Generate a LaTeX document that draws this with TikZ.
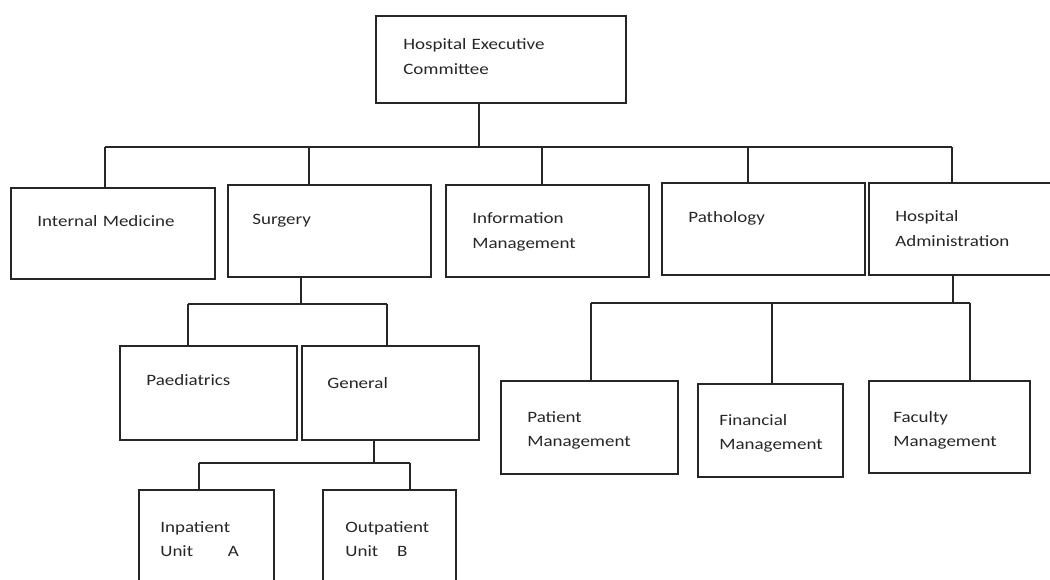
\documentclass[tikz,border=0pt]{standalone}
\usepackage{fontspec}
\setmainfont{Carlito}[FakeStretch=1.2]
\usetikzlibrary{positioning}

\begin{document}
\begin{tikzpicture}[x=0.02cm, y=-0.02cm,
  unitbox/.style={draw=black!85, line width=1.1pt, inner sep=0, anchor=north west},
  unittext/.style={anchor=base west, inner sep=0, text width=5cm, align=left,
                   font=\fontsize{9pt}{13.8pt}\selectfont, text=black!85},
  link/.style={draw=black!85, line width=0.8pt}]
\useasboundingbox (0,0) rectangle (1050,580);
\clip (0,0) rectangle (1050,580);
% Boxes: name/left/top/width/height/text x/first baseline/text
\foreach \n/\x/\y/\w/\h/\tx/\ty/\t in {
  hec/375/15/250/87/403/50/{Hospital Executive\\Committee},
  im/10/187/204/91/37/227/{Internal Medicine},
  sur/227/184/203/92/252/225/{Surgery},
  inf/445/184/203/92/472/224/{Information\\Management},
  pat/661/182/203/92/688/223/{Pathology},
  adm/868/182/200/92/895/222/{Hospital\\Administration},
  pae/119/345/177/94/146/385/{Paediatrics},
  gen/301/345/177/94/327/388/{General},
  inp/138/489/135/120/160/532/{Inpatient\\Unit\hspace*{2.2em}A},
  out/322/489/133/120/345/532/{Outpatient\\Unit\hspace*{1.2em}B},
  pm/500/380/177/93/527/422/{Patient\\Management},
  fm/697/383/145/93/719/425/{Financial\\Management},
  fac/868/380/161/92/893/422/{Faculty\\Management}}{
  \node[unitbox, minimum width=\w*0.02cm, minimum height=\h*0.02cm] (\n) at (\x,\y) {};
  \node[unittext] (\n-txt) at (\tx,\ty) {\t};
}
% Connectors: parent/stem x/bus y/children with drop x
\foreach \p/\sx/\by/\kids in {
  hec/479/147/{im/105,sur/309,inf/542,pat/748,adm/952},
  sur/301/304/{pae/188,gen/387},
  gen/374/463/{inp/199,out/410},
  adm/953/303/{pm/591,fm/772,fac/970}}{
  \coordinate (\p-stem) at (\sx,\by);
  \draw[link] (\p.south -| \p-stem) -- (\p-stem);
  \foreach \k/\kx in \kids {
    \coordinate (\k-drop) at (\kx,\by);
    \draw[link] (\k-drop) -- (\k-drop |- \k.north);
  }
}
% Bus lines
\draw[link] (im-drop) -- (adm-drop);
\draw[link] (pae-drop) -- (gen-drop);
\draw[link] (inp-drop) -- (out-drop);
\draw[link] (pm-drop) -- (fac-drop);
\end{tikzpicture}
\end{document}
